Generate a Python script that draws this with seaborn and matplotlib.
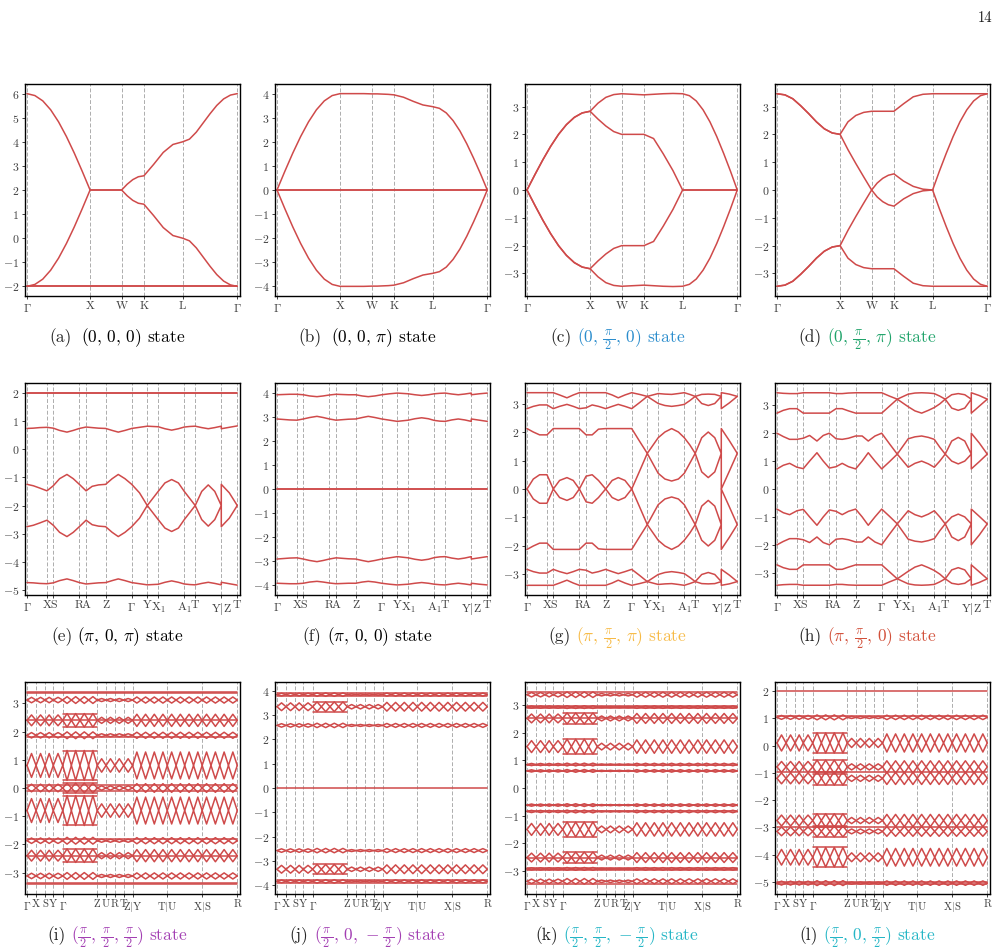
import matplotlib
matplotlib.use('Agg')
import numpy as np
import pandas as pd
import matplotlib.pyplot as plt
import seaborn as sns
from matplotlib.ticker import MultipleLocator

RED = '#cf4a4a'

# ---------------- row 1 : fcc path  G-X-W-K-L-G ----------------
ticks_row1 = [0.0, 0.300, 0.450, 0.556, 0.740, 1.0]
labels_row1 = [r'$\Gamma$', 'X', 'W', 'K', 'L', r'$\Gamma$']
k_row1 = [0.0, 0.0375, 0.075, 0.1125, 0.15, 0.1875, 0.225, 0.2625, 0.3, 0.3375, 0.375, 0.4125,
          0.45, 0.4765, 0.503, 0.5295, 0.556, 0.602, 0.648, 0.694, 0.74, 0.7725, 0.805, 0.8375,
          0.87, 0.9025, 0.935, 0.9675, 1.0]

a_top = [6.0, 5.92, 5.70, 5.33, 4.83, 4.22, 3.53, 2.78, 2.0, 2.0, 2.0, 2.0, 2.0, 2.24, 2.43, 2.55,
         2.59, 3.06, 3.56, 3.89, 4.0, 4.11, 4.40, 4.78, 5.16, 5.51, 5.78, 5.94, 6.0]
a_mid = [-2.0, -1.92, -1.70, -1.33, -0.83, -0.22, 0.47, 1.22, 2.0, 2.0, 2.0, 2.0, 2.0, 1.76, 1.57,
         1.45, 1.41, 0.94, 0.44, 0.11, 0.0, -0.11, -0.40, -0.78, -1.16, -1.51, -1.78, -1.94, -2.0]
a_flat = [-2.0, -2.0]

b_top = [0.0, 0.78, 1.53, 2.22, 2.83, 3.33, 3.70, 3.92, 4.0, 4.0, 4.0, 4.0, 3.99, 3.99, 3.98, 3.97,
         3.95, 3.85, 3.68, 3.53, 3.46, 3.39, 3.20, 2.88, 2.45, 1.92, 1.32, 0.68, 0.0]
b_bot = [0.0, -0.78, -1.53, -2.22, -2.83, -3.33, -3.70, -3.92, -4.0, -4.0, -4.0, -4.0, -3.99, -3.99,
         -3.98, -3.97, -3.95, -3.85, -3.68, -3.53, -3.46, -3.39, -3.20, -2.88, -2.45, -1.92, -1.32,
         -0.68, 0.0]
b_flat = [0.0, 0.0]

c_b1 = [0.0, 0.55, 1.08, 1.57, 2.0, 2.35, 2.61, 2.77, 2.83, 3.12, 3.33, 3.43, 3.46, 3.45, 3.44, 3.43,
        3.42, 3.44, 3.46, 3.47, 3.46, 3.39, 3.20, 2.88, 2.45, 1.92, 1.32, 0.68, 0.0]
c_b2 = [0.0, 0.55, 1.08, 1.57, 2.0, 2.35, 2.61, 2.77, 2.83, 2.55, 2.30, 2.10, 2.0, 2.0, 2.0, 2.0,
        2.0, 1.85, 1.30, 0.70, 0.0, 0.0, 0.0, 0.0, 0.0, 0.0, 0.0, 0.0, 0.0]
c_b3 = [0.0, -0.55, -1.08, -1.57, -2.0, -2.35, -2.61, -2.77, -2.83, -2.55, -2.30, -2.10, -2.0, -2.0,
        -2.0, -2.0, -2.0, -1.85, -1.30, -0.70, 0.0, 0.0, 0.0, 0.0, 0.0, 0.0, 0.0, 0.0, 0.0]
c_b4 = [0.0, -0.55, -1.08, -1.57, -2.0, -2.35, -2.61, -2.77, -2.83, -3.12, -3.33, -3.43, -3.46, -3.45,
        -3.44, -3.43, -3.42, -3.44, -3.46, -3.47, -3.46, -3.39, -3.20, -2.88, -2.45, -1.92, -1.32,
        -0.68, 0.0]

d_b1 = [3.46, 3.42, 3.28, 3.03, 2.75, 2.45, 2.2, 2.05, 2.0, 2.45, 2.68, 2.79, 2.83, 2.83, 2.83, 2.83,
        2.83, 3.1, 3.35, 3.44, 3.46, 3.46, 3.46, 3.46, 3.46, 3.46, 3.46, 3.46, 3.46]
d_b2 = [3.46, 3.42, 3.28, 3.03, 2.75, 2.45, 2.2, 2.05, 2.0, 1.45, 0.95, 0.47, 0.0, 0.25, 0.42, 0.53,
        0.58, 0.32, 0.13, 0.03, 0.0, 0.68, 1.32, 1.92, 2.45, 2.88, 3.2, 3.39, 3.46]
d_b3 = [-3.46, -3.42, -3.28, -3.03, -2.75, -2.45, -2.2, -2.05, -2.0, -1.45, -0.95, -0.47, 0.0, -0.25,
        -0.42, -0.53, -0.58, -0.32, -0.13, -0.03, 0.0, -0.68, -1.32, -1.92, -2.45, -2.88, -3.2,
        -3.39, -3.46]
d_b4 = [-3.46, -3.42, -3.28, -3.03, -2.75, -2.45, -2.2, -2.05, -2.0, -2.45, -2.68, -2.79, -2.83,
        -2.83, -2.83, -2.83, -2.83, -3.1, -3.35, -3.44, -3.46, -3.46, -3.46, -3.46, -3.46, -3.46,
        -3.46, -3.46, -3.46]

# ---------------- row 2 : G-X-S-R-A-Z-G-Y-X1-A1-T-Y|Z-T ----------------
ticks_row2 = [0.0, 0.095, 0.125, 0.249, 0.281, 0.374, 0.498, 0.572, 0.624, 0.748, 0.800, 0.924, 1.0]
labels_row2 = [r'$\Gamma$', 'X', 'S', 'R', 'A', 'Z', r'$\Gamma$', 'Y', r'X$_1$', r'A$_1$', 'T',
               r'Y$|$Z', 'T']
k_row2_left = [0.0, 0.03, 0.06, 0.095, 0.125, 0.155, 0.19, 0.22, 0.249, 0.281, 0.31, 0.34, 0.374,
               0.405, 0.434, 0.466, 0.498, 0.535, 0.572, 0.624, 0.656, 0.688, 0.72, 0.748, 0.774,
               0.8, 0.831, 0.862, 0.893, 0.924]
k_row2_right = [0.924, 0.962, 1.0]

e_flat = [2.0, 2.0]
e2_left = [0.73, 0.74, 0.76, 0.77, 0.74, 0.66, 0.60, 0.66, 0.73, 0.78, 0.76, 0.74, 0.73, 0.66, 0.60,
           0.66, 0.73, 0.77, 0.81, 0.79, 0.72, 0.67, 0.72, 0.78, 0.80, 0.81, 0.76, 0.72, 0.76, 0.81]
e2_right = [0.72, 0.77, 0.82]
e3_left = [-1.25, -1.3, -1.38, -1.48, -1.3, -1.05, -0.9, -1.05, -1.25, -1.48, -1.32, -1.27, -1.25,
           -1.05, -0.9, -1.05, -1.25, -1.55, -2.0, -1.5, -1.2, -1.08, -1.2, -1.5, -1.75, -2.0, -1.5,
           -1.27, -1.5, -2.0]
e3_right = [-1.25, -1.55, -2.0]
e4_left = [-2.75, -2.7, -2.62, -2.52, -2.7, -2.95, -3.1, -2.95, -2.75, -2.52, -2.68, -2.73, -2.75,
           -2.95, -3.1, -2.95, -2.75, -2.45, -2.0, -2.5, -2.8, -2.92, -2.8, -2.5, -2.25, -2.0, -2.5,
           -2.73, -2.5, -2.0]
e4_right = [-2.75, -2.45, -2.0]
e5_left = [-4.73, -4.74, -4.76, -4.77, -4.74, -4.66, -4.60, -4.66, -4.73, -4.78, -4.76, -4.74, -4.73,
           -4.66, -4.60, -4.66, -4.73, -4.77, -4.81, -4.79, -4.72, -4.67, -4.72, -4.78, -4.80,
           -4.81, -4.76, -4.72, -4.76, -4.81]
e5_right = [-4.72, -4.77, -4.82]

f_flat = [0.0, 0.0]
f1_left = [3.93, 3.94, 3.95, 3.95, 3.93, 3.88, 3.85, 3.88, 3.92, 3.95, 3.94, 3.93, 3.93, 3.88, 3.85,
           3.88, 3.93, 3.97, 4.0, 3.97, 3.93, 3.9, 3.93, 3.97, 3.99, 4.0, 3.96, 3.93, 3.96, 4.0]
f1_right = [3.93, 3.97, 4.0]
f2_left = [2.92, 2.9, 2.88, 2.87, 2.92, 2.98, 3.03, 2.98, 2.92, 2.87, 2.89, 2.91, 2.92, 2.98, 3.03,
           2.98, 2.92, 2.87, 2.82, 2.87, 2.93, 2.97, 2.93, 2.86, 2.83, 2.82, 2.88, 2.92, 2.88, 2.82]
f2_right = [2.92, 2.87, 2.82]
f3_left = [-2.92, -2.9, -2.88, -2.87, -2.92, -2.98, -3.03, -2.98, -2.92, -2.87, -2.89, -2.91, -2.92,
           -2.98, -3.03, -2.98, -2.92, -2.87, -2.82, -2.87, -2.93, -2.97, -2.93, -2.86, -2.83,
           -2.82, -2.88, -2.92, -2.88, -2.82]
f3_right = [-2.92, -2.87, -2.82]
f4_left = [-3.93, -3.94, -3.95, -3.95, -3.93, -3.88, -3.85, -3.88, -3.92, -3.95, -3.94, -3.93, -3.93,
           -3.88, -3.85, -3.88, -3.93, -3.97, -4.0, -3.97, -3.93, -3.9, -3.93, -3.97, -3.99, -4.0,
           -3.96, -3.93, -3.96, -4.0]
f4_right = [-3.93, -3.97, -4.0]

g1_left = [3.38, 3.38, 3.38, 3.38, 3.38, 3.3, 3.2, 3.3, 3.38, 3.38, 3.38, 3.38, 3.38, 3.3, 3.2, 3.3,
           3.38, 3.32, 3.25, 3.35, 3.33, 3.32, 3.35, 3.38, 3.32, 3.25, 3.32, 3.33, 3.32, 3.25]
g1_right = [3.38, 3.33, 3.25]
g2_left = [2.82, 2.9, 2.95, 2.95, 2.82, 2.9, 2.97, 2.9, 2.82, 2.85, 2.95, 2.9, 2.82, 2.9, 2.97, 2.9,
           2.82, 3.03, 3.25, 3.0, 2.93, 2.9, 2.93, 2.97, 3.1, 3.25, 3.0, 2.93, 3.0, 3.25]
g2_right = [2.82, 3.02, 3.25]
g3_left = [2.12, 2.0, 1.9, 1.9, 2.12, 2.12, 2.12, 2.12, 2.12, 1.9, 1.9, 2.1, 2.12, 2.12, 2.12, 2.12,
           2.12, 1.68, 1.25, 1.8, 2.0, 2.12, 2.0, 1.8, 1.55, 1.25, 1.8, 2.0, 1.8, 1.25]
g3_right = [2.12, 1.7, 1.25]
g4_left = [0.0, 0.35, 0.5, 0.5, 0.0, 0.3, 0.4, 0.3, 0.0, 0.45, 0.5, 0.3, 0.0, 0.3, 0.4, 0.3, 0.0,
           0.62, 1.25, 0.55, 0.35, 0.28, 0.35, 0.55, 0.9, 1.25, 0.6, 0.4, 0.6, 1.25]
g4_right = [0.0, 0.62, 1.25]
g5_left = [0.0, -0.35, -0.5, -0.5, 0.0, -0.3, -0.4, -0.3, 0.0, -0.45, -0.5, -0.3, 0.0, -0.3, -0.4,
           -0.3, 0.0, -0.62, -1.25, -0.55, -0.35, -0.28, -0.35, -0.55, -0.9, -1.25, -0.6, -0.4,
           -0.6, -1.25]
g5_right = [0.0, -0.62, -1.25]
g6_left = [-2.12, -2.0, -1.9, -1.9, -2.12, -2.12, -2.12, -2.12, -2.12, -1.9, -1.9, -2.1, -2.12,
           -2.12, -2.12, -2.12, -2.12, -1.68, -1.25, -1.8, -2.0, -2.12, -2.0, -1.8, -1.55, -1.25,
           -1.8, -2.0, -1.8, -1.25]
g6_right = [-2.12, -1.7, -1.25]
g7_left = [-2.82, -2.9, -2.95, -2.95, -2.82, -2.9, -2.97, -2.9, -2.82, -2.85, -2.95, -2.9, -2.82,
           -2.9, -2.97, -2.9, -2.82, -3.03, -3.25, -3.0, -2.93, -2.9, -2.93, -2.97, -3.1, -3.25,
           -3.0, -2.93, -3.0, -3.25]
g7_right = [-2.82, -3.02, -3.25]
g8_left = [-3.38, -3.38, -3.38, -3.38, -3.38, -3.3, -3.2, -3.3, -3.38, -3.38, -3.38, -3.38, -3.38,
           -3.3, -3.2, -3.3, -3.38, -3.32, -3.25, -3.35, -3.33, -3.32, -3.35, -3.38, -3.32, -3.25,
           -3.32, -3.33, -3.32, -3.25]
g8_right = [-3.38, -3.33, -3.25]

h1_left = [3.45, 3.43, 3.42, 3.42, 3.45, 3.45, 3.45, 3.45, 3.45, 3.42, 3.42, 3.44, 3.45, 3.45, 3.45,
           3.45, 3.45, 3.33, 3.22, 3.4, 3.44, 3.45, 3.44, 3.42, 3.33, 3.22, 3.38, 3.42, 3.38, 3.22]
h1_right = [3.45, 3.35, 3.22]
h2_left = [2.72, 2.82, 2.88, 2.88, 2.72, 2.72, 2.72, 2.72, 2.72, 2.88, 2.88, 2.8, 2.72, 2.72, 2.72,
           2.72, 2.72, 2.97, 3.22, 2.95, 2.8, 2.72, 2.82, 2.92, 3.05, 3.22, 2.9, 2.82, 2.9, 3.22]
h2_right = [2.72, 2.97, 3.22]
h3_left = [2.0, 1.88, 1.78, 1.78, 1.82, 1.92, 1.72, 1.92, 2.0, 1.8, 1.78, 1.82, 1.9, 1.9, 1.72, 1.9,
           2.0, 1.62, 1.25, 1.8, 1.87, 1.9, 1.85, 1.78, 1.5, 1.25, 1.72, 1.85, 1.72, 1.25]
h3_right = [2.0, 1.65, 1.25]
h4_left = [0.72, 0.85, 0.92, 0.78, 0.73, 1.0, 1.3, 1.0, 0.75, 0.8, 0.92, 0.8, 0.72, 1.0, 1.3, 1.0,
           0.72, 0.98, 1.25, 0.78, 0.92, 1.0, 0.9, 0.78, 1.0, 1.25, 1.0, 0.9, 1.0, 1.25]
h4_right = [0.72, 0.98, 1.25]
h5_left = [-0.72, -0.85, -0.92, -0.78, -0.73, -1.0, -1.3, -1.0, -0.75, -0.8, -0.92, -0.8, -0.72,
           -1.0, -1.3, -1.0, -0.72, -0.98, -1.25, -0.78, -0.92, -1.0, -0.9, -0.78, -1.0, -1.25,
           -1.0, -0.9, -1.0, -1.25]
h5_right = [-0.72, -0.98, -1.25]
h6_left = [-2.0, -1.88, -1.78, -1.78, -1.82, -1.92, -1.72, -1.92, -2.0, -1.8, -1.78, -1.82, -1.9,
           -1.9, -1.72, -1.9, -2.0, -1.62, -1.25, -1.8, -1.87, -1.9, -1.85, -1.78, -1.5, -1.25,
           -1.72, -1.85, -1.72, -1.25]
h6_right = [-2.0, -1.65, -1.25]
h7_left = [-2.72, -2.82, -2.88, -2.88, -2.72, -2.72, -2.72, -2.72, -2.72, -2.88, -2.88, -2.8, -2.72,
           -2.72, -2.72, -2.72, -2.72, -2.97, -3.22, -2.95, -2.8, -2.72, -2.82, -2.92, -3.05, -3.22,
           -2.9, -2.82, -2.9, -3.22]
h7_right = [-2.72, -2.97, -3.22]
h8_left = [-3.45, -3.43, -3.42, -3.42, -3.45, -3.45, -3.45, -3.45, -3.45, -3.42, -3.42, -3.44, -3.45,
           -3.45, -3.45, -3.45, -3.45, -3.33, -3.22, -3.4, -3.44, -3.45, -3.44, -3.42, -3.33, -3.22,
           -3.38, -3.42, -3.38, -3.22]
h8_right = [-3.45, -3.35, -3.22]

# ---------------- row 3 : G-X-S-Y-G-Z-U-R-T-Z|Y-T|U-X|S-R ----------------
ticks_row3 = [0.0, 0.043, 0.086, 0.125, 0.170, 0.334, 0.376, 0.418, 0.460, 0.502, 0.667, 0.833, 1.0]
labels_row3 = [r'$\Gamma$', 'X', 'S', 'Y', r'$\Gamma$', 'Z', 'U', 'R', 'T', r'Z$|$Y', r'T$|$U',
               r'X$|$S', 'R']
# points where the bands of each bundle pinch together, and relative lobe size
row3_nodes = [0.0, 0.043, 0.086, 0.125, 0.170, 0.211, 0.252, 0.293, 0.334, 0.376, 0.418, 0.460,
              0.502, 0.543, 0.585, 0.626, 0.667, 0.709, 0.750, 0.792, 0.833, 0.875, 0.917, 0.958, 1.0]
row3_lobe_size = [0.8, 0.8, 0.8, 0.8, 1.0, 1.0, 1.0, 1.0, 0.45, 0.45, 0.45, 0.45,
                  0.9, 0.9, 0.9, 0.9, 0.9, 0.9, 0.9, 0.9, 0.9, 0.9, 0.9, 0.9]
row3_box = [0.170, 0.334]

i_centers = [3.12, 2.4, 1.87, 0.8, 0.0, -0.8, -1.87, -2.4, -3.12]
i_halfw = [0.12, 0.24, 0.12, 0.53, 0.17, 0.53, 0.12, 0.24, 0.12]
i_flat = [3.36, 3.41, 2.4, 1.8, 0.12, -0.12, -1.8, -2.4, -3.36, -3.41]

j_centers = [3.85, 3.35, 2.58, -2.58, -3.35, -3.85]
j_halfw = [0.07, 0.2, 0.09, 0.09, 0.2, 0.07]
j_flat = [3.93, 3.8, 0.0, -3.8, -3.93]

k_centers = [3.38, 2.93, 2.52, 1.5, 0.85, 0.62, -0.62, -0.85, -1.5, -2.52, -2.93, -3.38]
k_halfw = [0.1, 0.05, 0.2, 0.27, 0.05, 0.05, 0.05, 0.05, 0.27, 0.2, 0.05, 0.1]
k_flat = [3.47, 2.97, 2.9, 2.52, 0.85, 0.6, -0.6, -0.85, -2.52, -2.9, -2.97, -3.47]

l_centers = [1.04, 0.1, -0.78, -1.2, -2.75, -3.15, -4.1, -5.05]
l_halfw = [0.09, 0.37, 0.25, 0.25, 0.25, 0.2, 0.36, 0.09]
l_flat = [2.0, 1.1, -0.95, -3.0, -5.0, -5.1]

# ---------------- captions ----------------
tags = ['(a)', '(b)', '(c)', '(d)', '(e)', '(f)', '(g)', '(h)', '(i)', '(j)', '(k)', '(l)']
P2 = r'\frac{\,\pi\,}{2}'
states = [r'$(0,\, 0,\, 0)$', r'$(0,\, 0,\, \pi)$', r'$(0,\, %s,\, 0)$' % P2,
          r'$(0,\, %s,\, \pi)$' % P2, r'$(\pi,\, 0,\, \pi)$', r'$(\pi,\, 0,\, 0)$',
          r'$(\pi,\, %s,\, \pi)$' % P2, r'$(\pi,\, %s,\, 0)$' % P2,
          r'$(%s,\, %s,\, %s)$' % (P2, P2, P2), r'$(%s,\, 0,\, -%s)$' % (P2, P2),
          r'$(%s,\, %s,\, -%s)$' % (P2, P2, P2), r'$(%s,\, 0,\, %s)$' % (P2, P2)]
state_colors = ['black', 'black', '#2b8dcd', '#1fa36a', 'black', 'black', '#f7ba45', '#d2503a',
                '#a33fb3', '#a33fb3', '#25b6c6', '#25b6c6']


def flat_segments(levels, x0=0.0, x1=1.0):
    return [([x0, x1], [v, v]) for v in levels]


def row2_segments(pairs):
    # left and right parts are joined, so the jump at Y|Z is drawn as a vertical step
    return [(k_row2_left + k_row2_right, left + right) for left, right in pairs]


def row3_segments(centers, halfw, flats):
    segs = []
    for c, w in zip(centers, halfw):
        for sign in (1, -1):
            xs, ys = [], []
            for j, size in enumerate(row3_lobe_size):
                x0, x1 = row3_nodes[j], row3_nodes[j + 1]
                xs += [x0, 0.5 * (x0 + x1)]
                ys += [c, c + sign * w * size]
            xs.append(row3_nodes[-1])
            ys.append(c)
            segs.append((xs, ys))
        if w >= 0.15:
            segs += flat_segments([c + w, c - w], *row3_box)
    segs += flat_segments(flats)
    return segs


panels = [
    ([(k_row1, a_top), (k_row1, a_mid)] + flat_segments(a_flat), ticks_row1, labels_row1, (-2.4, 6.4)),
    ([(k_row1, b_top), (k_row1, b_bot)] + flat_segments(b_flat), ticks_row1, labels_row1, (-4.4, 4.4)),
    ([(k_row1, c_b1), (k_row1, c_b2), (k_row1, c_b3), (k_row1, c_b4)], ticks_row1, labels_row1,
     (-3.81, 3.81)),
    ([(k_row1, d_b1), (k_row1, d_b2), (k_row1, d_b3), (k_row1, d_b4)], ticks_row1, labels_row1,
     (-3.81, 3.81)),
    (row2_segments([(e2_left, e2_right), (e3_left, e3_right), (e4_left, e4_right),
                    (e5_left, e5_right)]) + flat_segments(e_flat), ticks_row2, labels_row2,
     (-5.17, 2.34)),
    (row2_segments([(f1_left, f1_right), (f2_left, f2_right), (f3_left, f3_right),
                    (f4_left, f4_right)]) + flat_segments(f_flat), ticks_row2, labels_row2,
     (-4.42, 4.42)),
    (row2_segments([(g1_left, g1_right), (g2_left, g2_right), (g3_left, g3_right),
                    (g4_left, g4_right), (g5_left, g5_right), (g6_left, g6_right),
                    (g7_left, g7_right), (g8_left, g8_right)]), ticks_row2, labels_row2,
     (-3.72, 3.72)),
    (row2_segments([(h1_left, h1_right), (h2_left, h2_right), (h3_left, h3_right),
                    (h4_left, h4_right), (h5_left, h5_right), (h6_left, h6_right),
                    (h7_left, h7_right), (h8_left, h8_right)]), ticks_row2, labels_row2,
     (-3.8, 3.8)),
    (row3_segments(i_centers, i_halfw, i_flat), ticks_row3, labels_row3, (-3.76, 3.76)),
    (row3_segments(j_centers, j_halfw, j_flat), ticks_row3, labels_row3, (-4.37, 4.37)),
    (row3_segments(k_centers, k_halfw, k_flat), ticks_row3, labels_row3, (-3.84, 3.84)),
    (row3_segments(l_centers, l_halfw, l_flat), ticks_row3, labels_row3, (-5.45, 2.34)),
]

sns.set_theme(style='ticks')
plt.rcParams['font.family'] = 'serif'
plt.rcParams['font.serif'] = ['cmr10']
plt.rcParams['mathtext.fontset'] = 'cm'
plt.rcParams['axes.formatter.use_mathtext'] = True
plt.rcParams['axes.unicode_minus'] = True

W, H = 1006, 952
fig = plt.figure(figsize=(W / 100, H / 100), dpi=100)

lefts = [25, 275, 525, 775]
tops = [84, 383, 682]
ax_w, ax_h = 215, 212
cap_y = [338, 637, 936]

for n, (segs, ticks, labels, ylim) in enumerate(panels):
    r, c = divmod(n, 4)
    ax = fig.add_axes([lefts[c] / W, 1 - (tops[r] + ax_h) / H, ax_w / W, ax_h / H])
    frames = [pd.DataFrame({'k': xs, 'E': ys, 'line': m}) for m, (xs, ys) in enumerate(segs)]
    df = pd.concat(frames, ignore_index=True)
    for t in ticks:
        ax.axvline(t, color='0.68', lw=0.7, ls=(0, (4, 2)), zorder=0)
    sns.lineplot(data=df, x='k', y='E', units='line', estimator=None, sort=False,
                 color=RED, linewidth=1.1, legend=False, ax=ax)
    ax.set_xlim(-0.0095, 1.013)
    ax.set_ylim(*ylim)
    ax.set_xticks(ticks)
    ax.set_xticklabels(labels)
    ax.yaxis.set_major_locator(MultipleLocator(1))
    ax.set_xlabel('')
    ax.set_ylabel('')
    ax.tick_params(labelsize=8.5, length=2.5, width=0.7, pad=1.5, colors='0.25')
    if r == 2:
        ax.tick_params(axis='x', labelsize=7.8)
    for s in ax.spines.values():
        s.set_visible(True)
        s.set_color('black')
        s.set_linewidth(1.0)

# captions: black tag, coloured state description
renderer = fig.canvas.get_renderer()
for n in range(12):
    r, c = divmod(n, 4)
    xc = lefts[c] + ax_w / 2 - 15
    yb = 1 - (cap_y[r] + 4) / H
    t1 = fig.text(0, yb, tags[n], fontsize=12.5, color='0.15', va='baseline', ha='left')
    t2 = fig.text(0, yb, states[n] + ' state', fontsize=12.5, color=state_colors[n],
                  va='baseline', ha='left')
    w1 = t1.get_window_extent(renderer).width
    w2 = t2.get_window_extent(renderer).width
    gap = 9 if n in (0, 1) else 5
    x0 = xc - (w1 + gap + w2) / 2
    t1.set_x(x0 / W)
    t2.set_x((x0 + w1 + gap) / W)

fig.text(985 / W, 1 - 18 / H, '14', fontsize=10.5, ha='center', va='center', color='0.1')

fig.savefig('out.png', dpi=100)
